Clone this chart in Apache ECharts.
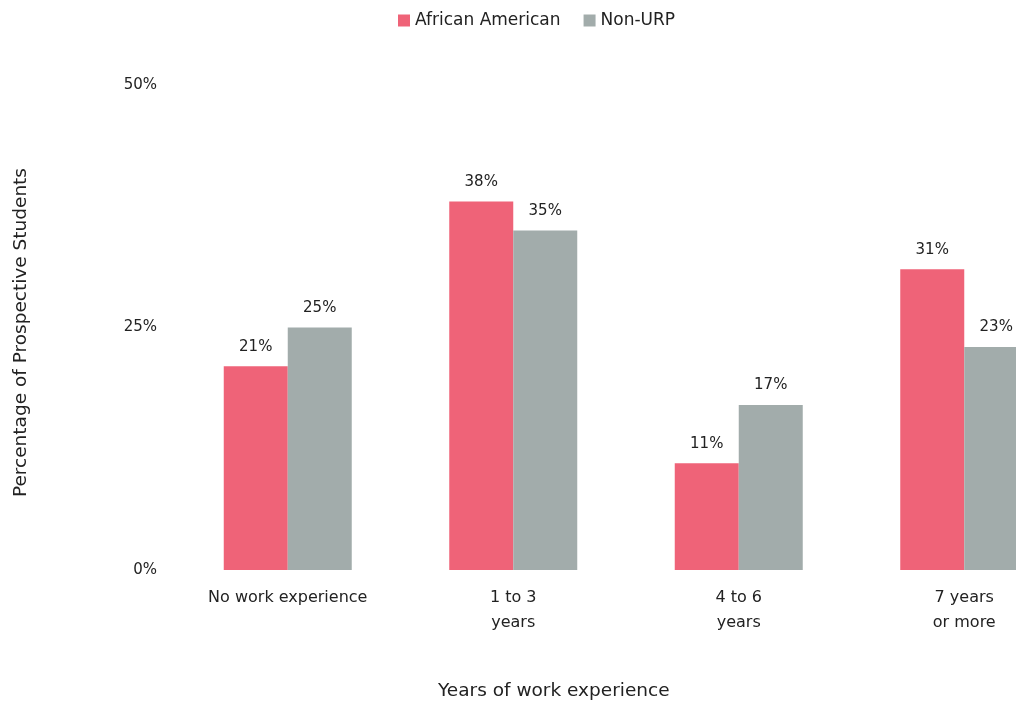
<!DOCTYPE html>
<html>
<head>
<meta charset="utf-8">
<script src="https://cdn.jsdelivr.net/npm/echarts@6/dist/echarts.min.js"></script>
<style>
  html, body { margin: 0; padding: 0; background: #ffffff; overflow: hidden; }
  /* canvas is wider than the window so the last group runs off the right edge */
  #chart { width: 1100px; height: 703px; }
</style>
</head>
<body>
<div id="chart"></div>
<script>
// Share of prospective students by years of work experience
const categories = ['No work experience', '1 to 3\nyears', '4 to 6\nyears', '7 years\nor more'];
const africanAmerican = [21, 38, 11, 31];
const nonURP = [25, 35, 17, 23];
const yTicks = [0, 25, 50];

const FONT = 'DejaVu Sans, sans-serif';
const chart = echarts.init(document.getElementById('chart'));

const labelStyle = {
  show: true,
  position: 'top',
  distance: 12,
  formatter: p => p.value + '%',
  color: '#222',
  fontSize: 15,
  fontFamily: FONT
};

chart.setOption({
  animation: false,
  textStyle: { fontFamily: FONT },
  legend: {
    top: 7,
    left: 393,
    itemWidth: 12,
    itemHeight: 12,
    itemGap: 23,
    icon: 'rect',
    textStyle: { fontSize: 17, color: '#222', fontFamily: FONT },
    data: ['African American', 'Non-URP']
  },
  grid: { left: 175, width: 902, top: 85, height: 485, outerBoundsMode: 'none' },
  xAxis: {
    type: 'category',
    data: categories,
    axisLine: { show: false },
    axisTick: { show: false },
    axisLabel: {
      color: '#222',
      fontSize: 16,
      lineHeight: 25,
      margin: 15,
      fontFamily: FONT
    }
  },
  yAxis: {
    type: 'value',
    min: yTicks[0],
    max: yTicks[yTicks.length - 1],
    interval: 25,
    name: 'Percentage of Prospective Students',
    nameLocation: 'middle',
    nameGap: 144,
    nameTextStyle: { fontSize: 18.5, color: '#222', fontFamily: FONT, padding: [0, 10, 0, 0] },
    splitLine: { show: false },
    axisLine: { show: false },
    axisTick: { show: false },
    axisLabel: {
      formatter: v => v + '%',
      color: '#222',
      fontSize: 15,
      margin: 18,
      fontFamily: FONT
    }
  },
  graphic: [{
    type: 'text',
    left: 438,
    top: 682,
    style: {
      text: 'Years of work experience',
      fontSize: 18.5,
      fill: '#222',
      fontFamily: FONT
    }
  }],
  series: [
    {
      name: 'African American',
      type: 'bar',
      data: africanAmerican,
      barWidth: 64,
      barGap: '0%',
      itemStyle: { color: '#EF6378' },
      label: labelStyle
    },
    {
      name: 'Non-URP',
      type: 'bar',
      data: nonURP,
      barWidth: 64,
      barGap: '0%',
      itemStyle: { color: '#A2ACAB' },
      label: labelStyle
    }
  ]
});
</script>
</body>
</html>
